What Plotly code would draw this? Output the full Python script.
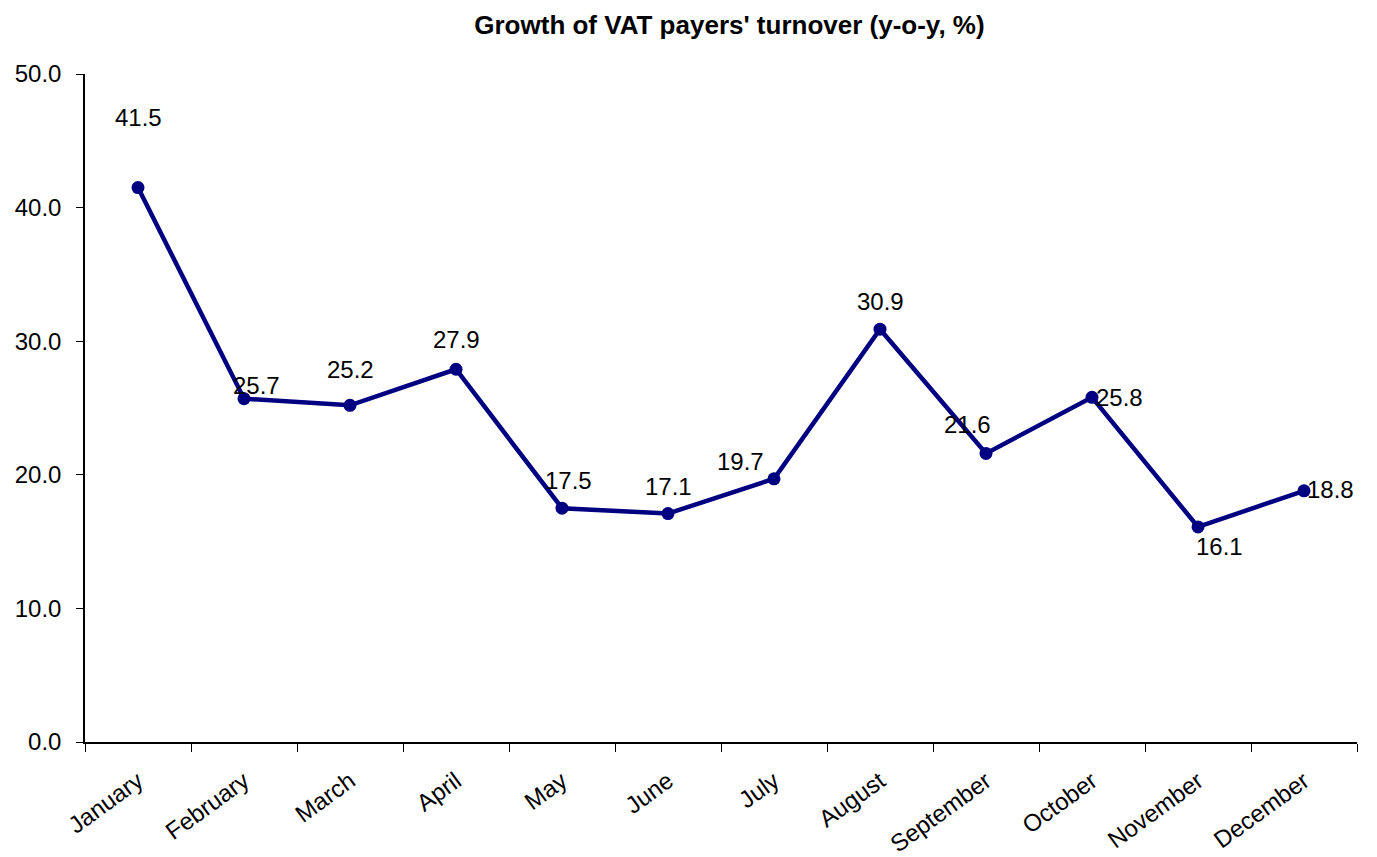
import plotly.graph_objects as go

months = ["January", "February", "March", "April", "May", "June", "July",
          "August", "September", "October", "November", "December"]
growth = [41.5, 25.7, 25.2, 27.9, 17.5, 17.1, 19.7, 30.9, 21.6, 25.8, 16.1, 18.8]
y_ticks = [0, 10, 20, 30, 40, 50]
y_tick_labels = ["0.0", "10.0", "20.0", "30.0", "40.0", "50.0"]

# label offsets (pixels) relative to each point
label_dx = [0, 12, 0, 0, 6, 0, -34, 0, -19, 27, 21, 26]
label_dy = [70, 13, 36, 30, 28, 27, 17, 28, 29, 0, -20, 1]

FONT = "Liberation Sans, Arial, sans-serif"
NAVY = "#000080"

fig = go.Figure()
fig.add_trace(go.Scatter(
    x=months, y=growth, mode="lines+markers",
    line=dict(color=NAVY, width=4.5),
    marker=dict(color=NAVY, size=13),
    showlegend=False, hoverinfo="x+y",
))

for m, v, dx, dy in zip(months, growth, label_dx, label_dy):
    fig.add_annotation(x=m, y=v, text=f"{v:.1f}", showarrow=False,
                       xshift=dx, yshift=dy,
                       font=dict(family=FONT, size=24, color="black"))

fig.update_layout(
    width=1369, height=849,
    margin=dict(l=77, r=20, t=66, b=115),
    paper_bgcolor="white", plot_bgcolor="white",
    title=dict(text="<b>Growth of VAT payers' turnover (y-o-y, %)</b>",
               x=0.527, xanchor="center", y=0.98, yanchor="middle",
               font=dict(family=FONT, size=26, color="black")),
    font=dict(family=FONT, color="black"),
)
fig.update_xaxes(
    type="category", range=[-0.5, 11.5], automargin=False,
    showline=True, linecolor="black", linewidth=1.5,
    ticks="outside", tickson="boundaries", ticklen=8, tickcolor="black",
    tickangle=-36, ticklabelstandoff=14,
    tickfont=dict(family=FONT, size=24, color="black"),
    showgrid=False, zeroline=False,
)
fig.update_yaxes(
    range=[0, 50], tickvals=y_ticks, ticktext=y_tick_labels, automargin=False,
    showline=True, linecolor="black", linewidth=1.5,
    ticks="outside", ticklen=7, tickcolor="black", ticklabelstandoff=10,
    tickfont=dict(family=FONT, size=24, color="black"),
    showgrid=False, zeroline=False,
)

fig.write_html("out.html")
